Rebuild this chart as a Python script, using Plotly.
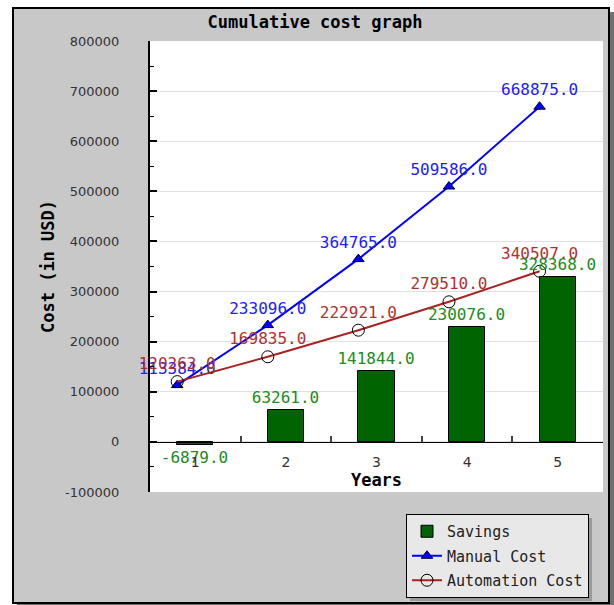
import plotly.graph_objects as go

# Cumulative cost data per year
years = [1, 2, 3, 4, 5]
manual_cost = [113384, 233096, 364765, 509586, 668875]
automation_cost = [120263, 169835, 222921, 279510, 340507]
savings = [-6879, 63261, 141844, 230076, 328368]

y_ticks = [-100000, 0, 100000, 200000, 300000, 400000, 500000, 600000, 700000, 800000]
y_tick_labels = [str(v) for v in y_ticks]

W, H = 614, 605
L, R, T, B = 150, 603, 41, 492  # plot area in pixels
BAR_W = 0.4
MONO = "DejaVu Sans Mono"


def px(x):
    return (x - L) / (R - L)


def py(y):
    return (B - y) / (B - T)


# line points sit at the left edge of each bar
line_x = [c - BAR_W / 2 for c in years]
# category boundaries, marked with small ticks on the zero line
boundaries = [c + 0.5 for c in years[:-1]]

fig = go.Figure()

fig.add_trace(go.Bar(
    x=years, y=savings, width=BAR_W, name="Savings", legendgroup="s",
    xaxis="x2",
    marker=dict(color="#006400", line=dict(color="black", width=1)),
    text=[f"{v:.1f}" for v in savings], textposition="outside",
    constraintext="none",
    textfont=dict(family=MONO, size=16, color="#228b22"),
    cliponaxis=False,
))

fig.add_trace(go.Scatter(
    x=line_x, y=manual_cost, name="Manual Cost", legendgroup="m",
    mode="lines+markers+text",
    line=dict(color="#0000ff", width=2),
    marker=dict(symbol="triangle-up", size=10, color="#0000ff",
                line=dict(color="#000033", width=1)),
    text=[f"{v:.1f}" for v in manual_cost], textposition="top center",
    textfont=dict(family=MONO, size=16, color="#2020ff"),
    cliponaxis=False,
))

fig.add_trace(go.Scatter(
    x=line_x, y=automation_cost, name="Automation Cost", legendgroup="a",
    mode="lines+markers+text",
    line=dict(color="#aa2222", width=2),
    marker=dict(symbol="circle-open", size=12, color="black",
                line=dict(color="black", width=1)),
    text=[f"{v:.1f}" for v in automation_cost], textposition="top center",
    textfont=dict(family=MONO, size=16, color="#b03030"),
    cliponaxis=False,
))

shapes = [
    # frame shadow
    dict(type="rect", xref="paper", yref="paper", layer="below",
         x0=px(17), x1=px(614), y0=py(12), y1=py(606),
         fillcolor="#707070", line=dict(width=0)),
    # grey frame
    dict(type="rect", xref="paper", yref="paper", layer="below",
         x0=px(13), x1=px(609), y0=py(8), y1=py(603),
         fillcolor="#c8c8c8", line=dict(color="black", width=2)),
    # white plotting area
    dict(type="rect", xref="paper", yref="paper", layer="below",
         x0=0, x1=1, y0=0, y1=1,
         fillcolor="white", line=dict(width=0)),
    # legend shadow
    dict(type="rect", xref="paper", yref="paper", layer="below",
         x0=px(410), x1=px(592), y0=py(518), y1=py(601),
         fillcolor="#9a9a9a", line=dict(width=0)),
]

fig.update_layout(
    width=W, height=H,
    margin=dict(l=L, r=W - R, t=T, b=H - B, pad=0, autoexpand=False),
    paper_bgcolor="white",
    plot_bgcolor="rgba(0,0,0,0)",
    shapes=shapes,
    bargap=0,
    title=dict(text="<b>Cumulative cost graph</b>", xref="container", yref="container",
               x=315 / W, y=1 - 22 / H, xanchor="center", yanchor="middle",
               font=dict(family=MONO, size=17, color="black")),
    xaxis=dict(
        range=[0.5, 5.5], tickvals=boundaries, showticklabels=False,
        anchor="free", position=1 / 9,
        showline=True, linecolor="black", linewidth=1,
        ticks="inside", ticklen=6, tickwidth=2, tickcolor="#444",
        showgrid=False, zeroline=False,
    ),
    xaxis2=dict(
        range=[0.5, 5.5], tickvals=years, ticktext=[str(c) for c in years],
        overlaying="x", side="bottom",
        anchor="free", position=1 / 9,
        showline=False, ticks="", showgrid=False, zeroline=False,
        tickfont=dict(family="DejaVu Sans", size=14, color="#333"),
        ticklabelstandoff=10,
        title=dict(text="<b>Years</b>", standoff=2,
                   font=dict(family=MONO, size=17, color="black")),
    ),
    yaxis=dict(
        range=[-100000, 800000], tickvals=y_ticks, ticktext=y_tick_labels,
        showline=True, linecolor="black", linewidth=2,
        ticks="inside", ticklen=7, tickwidth=2, tickcolor="black",
        minor=dict(ticks="inside", dtick=50000, ticklen=4, tickwidth=1,
                   tickcolor="black", showgrid=False),
        showgrid=True, gridcolor="#e0e0e0", gridwidth=1,
        zeroline=False,
        tickfont=dict(family="DejaVu Sans", size=13, color="#333"),
        ticklabelstandoff=26,
        title=dict(text="<b>Cost (in USD)</b>", standoff=6,
                   font=dict(family=MONO, size=17, color="black")),
    ),
    legend=dict(
        x=px(406), y=py(514), xanchor="left", yanchor="top",
        bgcolor="#e8e8e8", bordercolor="black", borderwidth=1,
        font=dict(family=MONO, size=15, color="#222"),
        traceorder="grouped", tracegroupgap=2,
    ),
    showlegend=True,
)

fig.write_html("out.html")
